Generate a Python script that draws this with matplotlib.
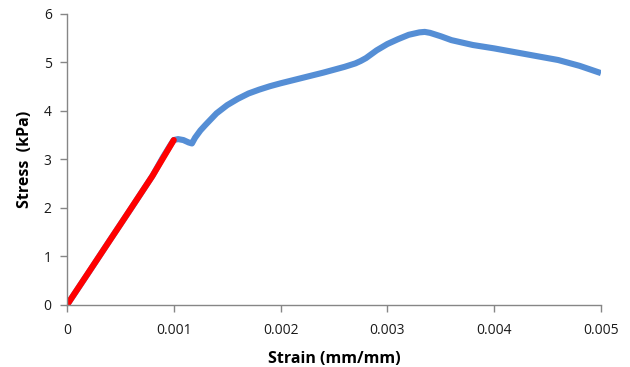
import matplotlib
matplotlib.use("Agg")
import matplotlib.pyplot as plt

# Data
strain_blue = [0.0, 0.0002, 0.0004, 0.0006, 0.0008, 0.0009, 0.00097, 0.001, 0.00104, 0.00109,
               0.00114, 0.00117, 0.0012, 0.00125, 0.0013, 0.0014, 0.0015, 0.0016, 0.0017,
               0.0018, 0.0019, 0.002, 0.0022, 0.0024, 0.0026, 0.0027, 0.00275, 0.0028,
               0.00285, 0.0029, 0.003, 0.0031, 0.0032, 0.0033, 0.00335, 0.0034, 0.0035,
               0.0036, 0.0037, 0.0038, 0.004, 0.0042, 0.0044, 0.0046, 0.0048, 0.005]
stress_blue = [0.0, 0.66, 1.33, 1.99, 2.66, 3.05, 3.3, 3.4, 3.42, 3.4,
               3.35, 3.33, 3.45, 3.6, 3.72, 3.95, 4.12, 4.25, 4.36,
               4.44, 4.51, 4.57, 4.68, 4.79, 4.91, 4.98, 5.03, 5.09,
               5.17, 5.25, 5.38, 5.48, 5.57, 5.62, 5.63, 5.61, 5.54,
               5.46, 5.41, 5.36, 5.29, 5.21, 5.13, 5.05, 4.93, 4.78]

strain_red = [0.0, 0.0005, 0.0008, 0.001]
stress_red = [0.0, 1.66, 2.66, 3.4]

x_ticks = [0, 0.001, 0.002, 0.003, 0.004, 0.005]
x_tick_labels = ["0", "0.001", "0.002", "0.003", "0.004", "0.005"]
y_ticks = [0, 1, 2, 3, 4, 5, 6]

plt.rcParams['font.family'] = ['Open Sans', 'DejaVu Sans']

fig = plt.figure(figsize=(6.3, 3.67), dpi=100)
ax = fig.add_axes([0.1063, 0.169, 0.8476, 0.793])

ax.plot(strain_blue, stress_blue, color="#558ED5", lw=4.4, solid_capstyle="butt",
        solid_joinstyle="round")
ax.plot(strain_red, stress_red, color="#FF0000", lw=4.4, solid_capstyle="round",
        solid_joinstyle="round")

ax.set_xlim(0, 0.005)
ax.set_ylim(0, 6)
ax.set_xticks(x_ticks)
ax.set_xticklabels(x_tick_labels)
ax.set_yticks(y_ticks)

for s in ["top", "right"]:
    ax.spines[s].set_visible(False)
for s in ["left", "bottom"]:
    ax.spines[s].set_color("#868686")
    ax.spines[s].set_linewidth(1.0)

ax.tick_params(axis="both", direction="out", length=5, width=1, color="#868686",
               labelsize=10, labelcolor="#1a1a1a")
ax.tick_params(axis="x", pad=8)
ax.tick_params(axis="y", pad=6)

ax.set_xlabel("Strain (mm/mm)", fontsize=11.5, fontweight="bold", labelpad=9)
ax.set_ylabel("Stress  (kPa)", fontsize=11.5, fontweight="bold", labelpad=8)

fig.savefig("out.png", dpi=100, facecolor="white")
